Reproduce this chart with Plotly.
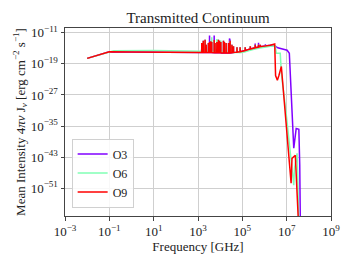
import plotly.graph_objects as go

# ---------------- data (log10 frequency [GHz], log10 intensity) ----------------
SERIES = ["O3", "O6", "O9"]
COLORS = ["#8000ff", "#80ffb4", "#ff0000"]

# continuum (non-line) points
O3_CONT_LOGF = [-2, -1, 0, 1, 2, 3, 3.1, 6.26, 6.47, 6.6, 7.02, 7.12, 7.15, 7.32, 7.43, 7.55, 7.59, 7.62]
O3_CONT_LOGI = [-17.6, -15.9, -15.95, -16.0, -16.05, -16.1, -16.1, -14.25, -14.4, -14.9, -15.5, -16.3, -20.0, -40.7, -35.6, -35.8, -45.0, -62.0]

O6_CONT_LOGF = [-2, -1, -0.8, 1, 3, 3.1, 6.26, 6.49, 6.53, 6.71, 6.76, 7.0, 7.32, 7.35, 7.47, 7.52, 7.56]
O6_CONT_LOGI = [-17.6, -15.9, -15.65, -15.6, -15.75, -15.8, -14.5, -14.4, -16.3, -16.3, -21.4, -33.0, -50.2, -46.0, -42.0, -50.0, -62.0]

O9_CONT_LOGF = [-2, -1, 0, 1, 2, 3, 3.1, 6.26, 6.46, 6.5, 6.58, 6.65, 6.76, 7.2, 7.24, 7.39, 7.53, 7.55]
O9_CONT_LOGI = [-17.6, -15.9, -15.95, -16.0, -16.05, -16.1, -16.1, -14.25, -13.9, -22.0, -23.2, -22.0, -19.7, -49.7, -43.3, -42.5, -58.3, -62.0]

# emission lines: position, local continuum level, peak level
LINE_LOGF = [3.17, 3.24, 3.32, 3.37, 3.47, 3.52, 3.58, 3.62, 3.73, 3.77, 3.85, 3.92, 3.97, 4.03, 4.15,
             4.19, 4.27, 4.38, 4.42, 4.45, 4.53, 4.60, 4.76, 4.90, 5.13, 5.36, 5.58, 5.73, 5.81, 6.04]
O9_LINE_BASE = [-16.1, -16.1, -16.1, -16.1, -16.1, -16.1, -16.1, -16.1, -16.15, -16.15, -16.15, -16.15, -16.15, -16.2, -16.2,
                -16.2, -16.2, -16.2, -16.2, -16.2, -16.15, -16.1, -16.0, -15.9, -15.6, -15.2, -14.9, -14.7, -14.6, -14.4]
O9_LINE_PEAK = [-13.65, -13.06, -12.8, -14.1, -13.65, -13.4, -13.2, -13.4, -12.9, -13.65, -13.4, -12.8, -13.06, -13.4, -13.06,
                -13.4, -13.65, -13.65, -13.1, -13.06, -14.1, -14.5, -14.75, -14.75, -14.75, -14.5, -14.1, -14.1, -14.1, -14.25]
O6_LINE_BASE = [-15.8, -15.8, -15.8, -15.8, -15.8, -15.85, -15.85, -15.85, -15.85, -15.9, -15.9, -15.9, -15.9, -15.9, -15.95,
                -15.95, -15.95, -16.0, -16.0, -16.0, -16.05, -16.1, -16.1, -16.1, -15.9, -15.5, -15.2, -15.0, -14.9, -14.7]
O6_LINE_PEAK = [-13.65, -13.06, -12.8, -14.1, -13.65, -13.4, -13.2, -12.2, -12.9, -13.65, -12.6, -12.8, -13.06, -13.0, -13.06,
                -13.4, -13.65, -13.65, -13.1, -13.06, -14.1, -14.5, -14.75, -14.75, -14.75, -14.5, -14.1, -14.1, -14.1, -14.25]
O3_LINE_BASE = O9_LINE_BASE
O3_LINE_PEAK = [-13.65, -13.06, -12.8, -14.1, -13.65, -11.7, -13.2, -13.4, -11.7, -13.65, -13.4, -12.8, -13.06, -13.4, -13.06,
                -13.4, -13.65, -13.65, -12.5, -13.06, -14.1, -14.5, -14.75, -14.75, -14.75, -14.5, -13.8, -13.6, -14.1, -14.0]

X_TICKS = [-3, -1, 1, 3, 5, 7, 9]
Y_TICKS = [-11, -19, -27, -35, -43, -51]


def build(cont_f, cont_i, base, peak):
    pts = list(zip(cont_f, cont_i))
    for f, b, p in zip(LINE_LOGF, base, peak):
        pts += [(f - 0.004, b), (f, p), (f + 0.004, b)]
    pts.sort(key=lambda t: t[0])
    return [10 ** f for f, _ in pts], [10 ** i for _, i in pts]


data = [
    build(O3_CONT_LOGF, O3_CONT_LOGI, O3_LINE_BASE, O3_LINE_PEAK),
    build(O6_CONT_LOGF, O6_CONT_LOGI, O6_LINE_BASE, O6_LINE_PEAK),
    build(O9_CONT_LOGF, O9_CONT_LOGI, O9_LINE_BASE, O9_LINE_PEAK),
]

FONT = "Liberation Serif"

fig = go.Figure()
for name, col, (x, y) in zip(SERIES, COLORS, data):
    fig.add_trace(go.Scatter(x=x, y=y, mode="lines", name=name,
                             line=dict(color=col, width=1.5)))


def sup(e):
    return "10<sup>" + str(e).replace("-", "−") + "</sup>"


axis_common = dict(
    type="log", showgrid=True, gridcolor="#cfcfcf", gridwidth=1,
    showline=True, linecolor="#444444", linewidth=1, mirror=True,
    ticks="outside", ticklen=3.5, tickcolor="#444444", tickwidth=1,
    zeroline=False, tickfont=dict(family=FONT, size=13, color="#222222"),
)

fig.update_layout(
    width=352, height=264,
    margin=dict(l=65, r=21, t=28, b=48),
    paper_bgcolor="white", plot_bgcolor="white",
    font=dict(family=FONT, color="#222222"),
    title=dict(text="Transmitted Continuum", x=0.5 * (65 + 331) / 352, xanchor="center",
               y=1 - 18 / 264, yanchor="middle", font=dict(family=FONT, size=15, color="#222222")),
    xaxis=dict(axis_common, range=[-3, 9], tickvals=[10 ** t for t in X_TICKS],
               ticktext=[sup(t) for t in X_TICKS],
               title=dict(text="Frequency [GHz]", font=dict(family=FONT, size=13), standoff=3)),
    yaxis=dict(axis_common, range=[-58.1, -9.8], tickvals=[10 ** t for t in Y_TICKS],
               ticktext=[sup(t) for t in Y_TICKS],
               title=dict(text="Mean Intensity 4<i>πν</i> J<sub><i>ν</i></sub> [erg cm<sup>−2</sup> s<sup>−1</sup>]",
                          font=dict(family=FONT, size=13), standoff=2)),
    legend=dict(x=0.025, y=0.045, xanchor="left", yanchor="bottom",
                bgcolor="rgba(255,255,255,0.85)", bordercolor="#d0d0d0", borderwidth=1,
                font=dict(family=FONT, size=12), itemwidth=30, tracegroupgap=0),
    showlegend=True,
)

fig.write_html("out.html", config={"displayModeBar": False},
               post_script="document.body.style.margin='0';document.body.style.padding='0';")
